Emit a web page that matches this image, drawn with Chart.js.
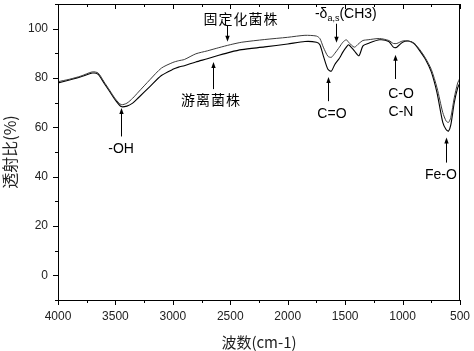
<!DOCTYPE html>
<html><head><meta charset="utf-8">
<script src="https://cdn.jsdelivr.net/npm/chart.js@4.4.0/dist/chart.umd.min.js"></script>
<style>html,body{margin:0;padding:0;background:#fff}#wrap{width:474px;height:351px}</style>
</head><body><div id="wrap"><canvas id="c" width="474" height="351"></canvas></div>
<script>
const wavenumbers = [4000,3900,3800,3700,3650,3600,3550,3500,3450,3400,3350,3300,3200,3100,3000,2950,2900,2800,2700,2600,2500,2400,2200,2000,1850,1750,1720,1690,1650,1620,1590,1550,1520,1490,1470,1420,1380,1345,1300,1200,1120,1080,1050,1000,950,900,850,800,750,700,650,620,600,580,550,520,500];
const immobilized = [78.5,79.5,80.8,82.5,82,78.5,75,71.5,69.2,69.8,71.8,74.3,79.3,84,86.3,87,87.5,89.8,91,92.3,93.5,94.5,95.6,96.5,97.3,97,96,92.5,88.8,88.4,90,92.5,94.5,95.5,94.5,92.5,94,95.2,95.5,96,95.2,94,94,95,95,94,91.5,88,83.5,76,66,62.5,62,64,72,78,80];
const free = [78,79.2,80.5,82,81.5,78,74.5,71,68.4,68.6,69.8,72,76.5,81,83.5,84.4,85,86.5,87.8,89.2,90.5,91.5,92.6,93.8,94.8,94.5,93.5,89,83.5,82.8,85.5,88,90.5,92.5,93.5,91,89,93,94,95.5,94.8,92.5,92.5,94.5,95,94,91,87.5,82.5,74,62,59,58.5,61,70,76,78];
const xTickLabels = [4000,3500,3000,2500,2000,1500,1000,500];
const yTickLabels = [0,20,40,60,80,100];
const seriesNames = ['固定化菌株','游离菌株'];

// annotations: text/arrow anchored in data coordinates (wavenumber, %)
const notes = [
  {text:'固定化菌株', x:2407, y:104, ax:2529, y0:101.2, y1:94.7, cjk:true},
  {text:'游离菌株', x:2668, y:71.4, ax:2653, y0:75.5, y1:86.5, cjk:true},
  {text:'-OH', x:3451, y:51, ax:3451, y0:56.3, y1:67.8},
  {text:'C=O', x:1615, y:65.3, ax:1649, y0:70.6, y1:80.4},
  {text:'C-O', x:1014, y:73.5, ax:1066, y0:79.6, y1:89.4},
  {text:'C-N', x:1014, y:66, ax:null},
  {text:'Fe-O', x:666, y:40.8, ax:625, y0:45.7, y1:55.9},
  {text:'delta', x:1763, y:106, ax:1580, y0:102, y1:94.3}
];

const LATIN = '"Liberation Sans", Arial, sans-serif';
const CJK = '"Noto Sans CJK SC", sans-serif';

const deco = {
  id:'deco',
  afterDraw(chart){
    const ctx = chart.ctx, xs = chart.scales.x, ys = chart.scales.y, a = chart.chartArea;
    ctx.save();
    ctx.strokeStyle = '#000'; ctx.lineWidth = 1;
    ctx.strokeRect(Math.round(a.left)+0.5, Math.round(a.top)+0.5, Math.round(a.right-a.left)-1, Math.round(a.bottom-a.top));
    for (let v=500; v<=4000; v+=250){
      const px = Math.round(xs.getPixelForValue(v))+0.5;
      const L = (v%500===0)?5:3;
      ctx.beginPath();
      ctx.moveTo(px, a.bottom); ctx.lineTo(px, a.bottom+L);
      ctx.moveTo(px, a.top); ctx.lineTo(px, a.top+L);
      ctx.stroke();
    }
    for (let v=-10; v<=110; v+=10){
      const py = Math.round(ys.getPixelForValue(v))+0.5;
      const L = (v%20===0)?5:3;
      ctx.beginPath(); ctx.moveTo(a.left, py); ctx.lineTo(a.left-L, py); ctx.stroke();
    }
    ctx.fillStyle = '#000';
    ctx.textBaseline = 'middle';
    for (const n of notes){
      const tx = xs.getPixelForValue(n.x), ty = ys.getPixelForValue(n.y);
      if (n.text === 'delta'){
        ctx.textAlign = 'left';
        ctx.font = '14px ' + LATIN;
        let cx = tx;
        ctx.fillText('-δ', cx, ty); cx += ctx.measureText('-δ').width;
        ctx.font = '9px ' + LATIN;
        ctx.fillText('a,s', cx, ty+5); cx += ctx.measureText('a,s').width;
        ctx.font = '14px ' + LATIN;
        ctx.fillText('(CH3)', cx, ty);
      } else {
        ctx.textAlign = 'center';
        ctx.font = n.cjk ? ('14px ' + CJK) : ('14px ' + LATIN);
        if (n.cjk){ ctx.letterSpacing = '1px'; }
        ctx.fillText(n.text, tx, ty);
        ctx.letterSpacing = '0px';
      }
      if (n.ax !== null && n.ax !== undefined){
        const px = Math.round(xs.getPixelForValue(n.ax))+0.5;
        const p0 = ys.getPixelForValue(n.y0), p1 = ys.getPixelForValue(n.y1);
        const dir = p1 > p0 ? 1 : -1;
        ctx.beginPath(); ctx.moveTo(px, p0); ctx.lineTo(px, p1 - dir*4); ctx.stroke();
        ctx.beginPath();
        ctx.moveTo(px, p1); ctx.lineTo(px-2.2, p1 - dir*6); ctx.lineTo(px+2.2, p1 - dir*6); ctx.closePath(); ctx.fill();
      }
    }
    ctx.restore();
  }
};

function noPad(s){ s.paddingTop = 0; s.paddingBottom = 0; s.paddingLeft = 0; s.paddingRight = 0; }

new Chart(document.getElementById('c'), {
  type:'line',
  data:{
    datasets:[
      {label:seriesNames[0], data:wavenumbers.map((w,i)=>({x:w,y:immobilized[i]})), borderColor:'#3a3a3a', borderWidth:1, pointRadius:0, tension:0.25, fill:false},
      {label:seriesNames[1], data:wavenumbers.map((w,i)=>({x:w,y:free[i]})), borderColor:'#000', borderWidth:1.1, pointRadius:0, tension:0.25, fill:false}
    ]
  },
  options:{
    responsive:false, animation:false, devicePixelRatio:1,
    layout:{padding:{top:4,right:14,left:0,bottom:0}},
    plugins:{legend:{display:false}, tooltip:{enabled:false}},
    scales:{
      x:{type:'linear', reverse:true, min:500, max:4000,
        afterBuildTicks(s){ s.ticks = xTickLabels.map(v=>({value:v})); },
        afterFit(s){ s.height = 51; noPad(s); },
        grid:{display:false, drawTicks:false}, border:{display:false},
        ticks:{padding:9, color:'#222', font:{family:LATIN, size:12}, maxRotation:0, autoSkip:false, callback:(v)=>String(v)},
        title:{display:true, text:'波数(cm-1)', color:'#222', font:{family:CJK, size:15}, padding:{top:2,bottom:0}}
      },
      y:{type:'linear', min:-10, max:110,
        afterBuildTicks(s){ s.ticks = yTickLabels.map(v=>({value:v})); },
        afterFit(s){ s.width = 58; noPad(s); },
        grid:{display:false, drawTicks:false}, border:{display:false},
        ticks:{padding:10, color:'#222', font:{family:LATIN, size:12}, callback:(v)=>String(v)},
        title:{display:true, text:'透射比(%)', color:'#222', font:{family:CJK, size:16}, padding:{top:0,bottom:1}}
      }
    }
  },
  plugins:[deco]
});
</script></body></html>
